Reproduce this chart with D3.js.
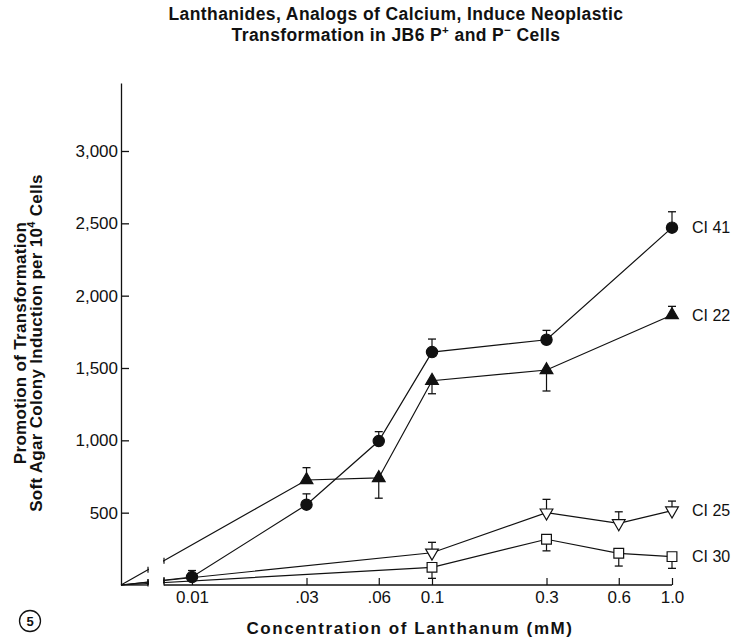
<!DOCTYPE html>
<html>
<head>
<meta charset="utf-8">
<script src="https://cdn.jsdelivr.net/npm/d3@7/dist/d3.min.js"></script>
<style>
  body { margin: 0; background: #fff; }
  text { font-family: "Liberation Sans", Arial, sans-serif; fill: #111; }
</style>
</head>
<body>
<svg id="chart" width="736" height="638"></svg>
<script>
// concentrations (mM) and their tick labels
var concs = [0.01, 0.03, 0.06, 0.1, 0.3, 0.6, 1.0];
var tickLabels = ["0.01", ".03", ".06", "0.1", "0.3", "0.6", "1.0"];
var yTicks = [500, 1000, 1500, 2000, 2500, 3000];

// colonies per 10^4 cells, null = not measured; errors signed (+ up, - down)
var seriesNames = ["CI 41", "CI 22", "CI 25", "CI 30"];
var ci41 = [55, 555, 995, 1610, 1695, null, 2470];
var ci41Err = [45, 75, 65, 90, 65, null, 110];
var ci22 = [null, 726, 740, 1412, 1486, null, 1866];
var ci22Err = [null, 85, -140, -90, -145, null, 60];
var ci25 = [null, null, null, 223, 500, 426, 514];
var ci25Err = [null, null, null, 72, 92, 80, 66];
var ci30 = [null, null, null, 122, 316, 219, 196];
var ci30Err = [null, null, null, -76, -80, -88, -81];

var series = [
  { name: seriesNames[0], vals: ci41, err: ci41Err, shape: "circle" },
  { name: seriesNames[1], vals: ci22, err: ci22Err, shape: "triUp" },
  { name: seriesNames[2], vals: ci25, err: ci25Err, shape: "triDown" },
  { name: seriesNames[3], vals: ci30, err: ci30Err, shape: "square" }
];

var svg = d3.select("#chart");
var originX = 121, breakL = 148, breakR = 164;

var x = d3.scaleLog().domain([0.01, 1]).range([192, 672]);
var y = d3.scaleLinear().domain([0, 3470]).range([585, 83]);

function px(c) { return c === 0 ? originX : x(c); }

// title
svg.append("text")
  .attr("x", 396).attr("y", 20)
  .attr("text-anchor", "middle")
  .attr("font-weight", "bold").attr("font-size", 17.5).attr("letter-spacing", 0.4)
  .text("Lanthanides, Analogs of Calcium, Induce Neoplastic");
var t2 = svg.append("text")
  .attr("x", 396).attr("y", 41)
  .attr("text-anchor", "middle")
  .attr("font-weight", "bold").attr("font-size", 17.5).attr("letter-spacing", 0.4);
t2.append("tspan").text("Transformation in JB6 P");
t2.append("tspan").attr("dy", -7).attr("font-size", 11.5).text("+");
t2.append("tspan").attr("dy", 7).text(" and P");
t2.append("tspan").attr("dy", -7).attr("font-size", 11.5).text("\u2212");
t2.append("tspan").attr("dy", 7).text("  Cells");

// y axis
var yAxis = d3.axisLeft(y).tickValues(yTicks)
  .tickSizeInner(-8).tickSizeOuter(0).tickPadding(3)
  .tickFormat(d3.format(","));
var gy = svg.append("g").attr("transform", "translate(" + originX + ",0)").call(yAxis);
gy.selectAll("text").attr("font-size", 17);
gy.selectAll("line, path").attr("stroke", "#111").attr("stroke-width", 1.3);

// y title
svg.append("g").attr("transform", "translate(26,343) rotate(-90)")
  .append("text").attr("text-anchor", "middle")
  .attr("font-weight", "bold").attr("font-size", 17).attr("letter-spacing", 0.3)
  .text("Promotion of Transformation");
var yt2 = svg.append("g").attr("transform", "translate(42,343) rotate(-90)")
  .append("text").attr("text-anchor", "middle")
  .attr("font-weight", "bold").attr("font-size", 17).attr("letter-spacing", 0.3);
yt2.append("tspan").text("Soft Agar Colony Induction per 10");
yt2.append("tspan").attr("dy", -7).attr("font-size", 11).text("4");
yt2.append("tspan").attr("dy", 7).text(" Cells");

// x axis
var xAxis = d3.axisBottom(x).tickValues(concs)
  .tickSizeInner(-7).tickSizeOuter(0).tickPadding(6)
  .tickFormat(function (d, i) { return tickLabels[i]; });
var gx = svg.append("g").attr("transform", "translate(0," + y(0) + ")").call(xAxis);
gx.select(".domain").remove();
gx.selectAll("text").attr("font-size", 17);
gx.selectAll("line").attr("stroke", "#111").attr("stroke-width", 1.2);
svg.append("line").attr("x1", originX).attr("x2", breakL)
  .attr("y1", y(0)).attr("y2", y(0)).attr("stroke", "#111").attr("stroke-width", 1.3);
svg.append("line").attr("x1", breakR).attr("x2", x(1))
  .attr("y1", y(0)).attr("y2", y(0)).attr("stroke", "#111").attr("stroke-width", 1.3);

svg.append("text").attr("x", 410).attr("y", 634)
  .attr("text-anchor", "middle").attr("font-weight", "bold")
  .attr("font-size", 17).attr("letter-spacing", 1.6)
  .text("Concentration of Lanthanum (mM)");

// lines from origin through measured points
var line = d3.line().x(function (d) { return px(d.c); }).y(function (d) { return y(d.v); });
series.forEach(function (s) {
  s.pts = [{ c: 0, v: 0 }];
  s.vals.forEach(function (v, i) {
    if (v !== null) s.pts.push({ c: concs[i], v: v, e: s.err[i] });
  });
  svg.append("path").datum(s.pts).attr("d", line)
    .attr("fill", "none").attr("stroke", "#111").attr("stroke-width", 1.2);
});

// axis break gap
svg.append("rect").attr("x", breakL + 1).attr("y", 520)
  .attr("width", breakR - breakL - 2).attr("height", 70).attr("fill", "#fff");
series.forEach(function (s) {
  var a = s.pts[0], b = s.pts[1];
  [breakL, breakR].forEach(function (bx) {
    var t = (bx - px(a.c)) / (px(b.c) - px(a.c));
    var yy = y(a.v) + t * (y(b.v) - y(a.v));
    svg.append("line").attr("x1", bx).attr("x2", bx)
      .attr("y1", yy - 3).attr("y2", yy + 3)
      .attr("stroke", "#111").attr("stroke-width", 1.2);
  });
});

// error bars
series.forEach(function (s) {
  s.pts.slice(1).forEach(function (d) {
    if (!d.e) return;
    var xx = px(d.c), y1 = y(d.v + d.e);
    svg.append("line").attr("x1", xx).attr("x2", xx)
      .attr("y1", y(d.v)).attr("y2", y1).attr("stroke", "#111").attr("stroke-width", 1.2);
    svg.append("line").attr("x1", xx - 4).attr("x2", xx + 4)
      .attr("y1", y1).attr("y2", y1).attr("stroke", "#111").attr("stroke-width", 1.3);
  });
});

// markers
series.forEach(function (s) {
  var sym, fill, rot = 0;
  if (s.shape === "circle") { sym = d3.symbol().type(d3.symbolCircle).size(100); fill = "#111"; }
  if (s.shape === "triUp") { sym = d3.symbol().type(d3.symbolTriangle).size(70); fill = "#111"; }
  if (s.shape === "triDown") { sym = d3.symbol().type(d3.symbolTriangle).size(70); fill = "#fff"; rot = 180; }
  if (s.shape === "square") { sym = d3.symbol().type(d3.symbolSquare).size(95); fill = "#fff"; }
  svg.selectAll(null).data(s.pts.slice(1)).enter().append("path")
    .attr("d", sym)
    .attr("transform", function (d) { return "translate(" + px(d.c) + "," + y(d.v) + ") rotate(" + rot + ")"; })
    .attr("fill", fill).attr("stroke", "#111").attr("stroke-width", 1.2);
  var last = s.pts[s.pts.length - 1];
  svg.append("text").attr("x", 692).attr("y", y(last.v)).attr("dy", "0.36em")
    .attr("font-size", 16).text(s.name);
});

// figure number
svg.append("circle").attr("cx", 30).attr("cy", 621).attr("r", 10.5)
  .attr("fill", "none").attr("stroke", "#111").attr("stroke-width", 1.3);
svg.append("text").attr("x", 30).attr("y", 621).attr("dy", "0.36em")
  .attr("text-anchor", "middle").attr("font-weight", "bold").attr("font-size", 13).text("5");
</script>
</body>
</html>
